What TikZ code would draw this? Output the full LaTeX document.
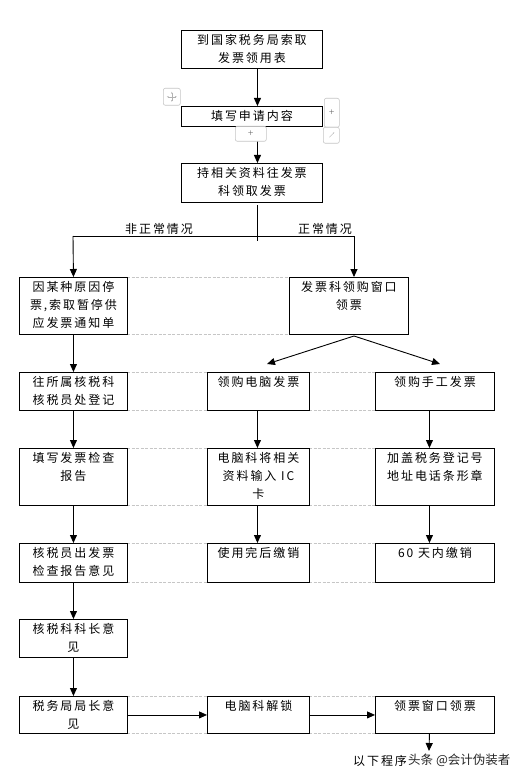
\documentclass[tikz,border=0pt]{standalone}
\usepackage{fontspec}
\setmainfont{Liberation Serif}
\newfontfamily\cjk[LetterSpace=16]{Noto Sans CJK SC}
\newfontfamily\cjkw{Noto Sans CJK SC}
\usetikzlibrary{arrows.meta}
\tikzset{
  box/.style={draw, line width=0.9pt, rectangle, inner sep=0pt},
  txt/.style={font=\cjk\fontsize{12}{18}\selectfont, align=center, inner sep=0pt, anchor=north},
  arr/.style={-{Triangle[length=8pt,width=7pt]}, line width=0.9pt},
  ln/.style={line width=0.9pt},
  grid/.style={draw=gray!45, dashed, dash pattern=on 3pt off 1.5pt, line width=0.6pt},
  ui/.style={draw=gray!45, fill=white, rounded corners=2pt, line width=0.6pt, inner sep=0pt},
  lbl/.style={font=\cjk\fontsize{12}{13}\selectfont, inner sep=0pt}
}
\newcommand\mybox[6]{%
  \node[box, anchor=north west, minimum width={(#4-#2)*1pt}, minimum height={(#5-#3)*1pt}] (#1) at (#2,#3) {};
  \node[txt] (#1t) at ([yshift=-4.5pt]#1.north) {#6};
}
\begin{document}
\begin{tikzpicture}[x=1pt,y=-1pt]
\useasboundingbox (0,0) rectangle (530,778);
\fill[white] (0,0) rectangle (530,778);

% dashed grid artifacts
\foreach \y in {277,334} { \draw[grid] (127,\y) -- (289,\y); }
\foreach \y in {372,410,448,505,543,582,696,733} {
  \draw[grid] (127,\y) -- (207,\y);
  \draw[grid] (309,\y) -- (375,\y);
}

% boxes
\mybox{b1}{181}{30}{322}{68}{到国家税务局索取\\发票领用表}
\mybox{b2}{181}{106}{322}{126}{填写申请内容}
\mybox{b3}{181}{163}{322}{202}{持相关资料往发票\\科领取发票}
\mybox{b4}{19}{277}{127}{334}{因某种原因停\\票,索取暂停供\\应发票通知单}
\mybox{b5}{289}{277}{408}{334}{发票科领购窗口\\领票}
\mybox{b6}{19}{372}{127}{410}{往所属核税科\\核税员处登记}
\mybox{b7}{207}{372}{309}{410}{领购电脑发票}
\mybox{b8}{375}{372}{494}{410}{领购手工发票}
\mybox{b9}{19}{448}{127}{505}{填写发票检查\\报告}
\mybox{b10}{207}{448}{309}{505}{电脑科将相关\\资料输入 IC\\卡}
\mybox{b11}{375}{448}{494}{505}{加盖税务登记号\\地址电话条形章}
\mybox{b12}{19}{543}{127}{582}{核税员出发票\\检查报告意见}
\mybox{b13}{207}{543}{309}{582}{使用完后缴销}
\mybox{b14}{375}{543}{494}{582}{60 天内缴销}
\mybox{b15}{19}{619}{127}{657}{核税科科长意\\见}
\mybox{b16}{19}{696}{127}{733}{税务局局长意\\见}
\mybox{b17}{207}{696}{309}{733}{电脑科解锁}
\mybox{b18}{375}{696}{494}{733}{领票窗口领票}

% top connectors
\draw[arr] ([xshift=5.5pt]b1.south) -- ([xshift=5.5pt]b2.north);
\draw[arr] ([xshift=5.5pt]b2.south) -- ([xshift=5.5pt]b3.north);
\coordinate (sp) at (257,205);
\coordinate (spb) at (257,241);
\coordinate (jL) at (73,236);
\coordinate (jR) at (354,236);
\draw[ln] (sp) -- (spb);
\draw[ln] (jL) -- (jR);
\draw[arr] (jL) -- (b4.north);
\draw[arr] (jR) -- (jR |- b5.north);
\node[lbl] (l1) at (159,229) {非正常情况};
\node[lbl] (l2) at (325,229) {正常情况};

% right fork
\coordinate (fk) at (354,336);
\coordinate (fkL) at (267,364);
\coordinate (fkR) at (440,364);
\draw[arr] (fk) -- (fkL);
\draw[arr] (fk) -- (fkR);

% left column
\draw[arr] (b4.south) -- (b6.north);
\draw[arr] (b6.south) -- (b9.north);
\draw[arr] (b9.south) -- (b12.north);
\draw[arr] (b12.south) -- (b15.north);
\draw[arr] (b15.south) -- (b16.north);
% middle column
\draw[arr] ([xshift=-1pt]b7.south) -- ([xshift=-1pt]b10.north);
\draw[arr] ([xshift=-1pt]b10.south) -- ([xshift=-1pt]b13.north);
% right column
\draw[arr] ([xshift=-5.5pt]b8.south) -- ([xshift=-5.5pt]b11.north);
\draw[arr] ([xshift=-5.5pt]b11.south) -- ([xshift=-5.5pt]b14.north);
% bottom row
\draw[arr] (b16.east) -- (b17.west);
\draw[arr] (b17.east) -- (b18.west);
\coordinate (endp) at (429,751);
\draw[arr] ([xshift=-5.5pt]b18.south) -- (endp);
\node[font=\cjk\fontsize{12}{13}\selectfont, inner sep=0pt, anchor=west] (tail) at (353,761) {以下程序};
\node[font=\cjkw\fontsize{12.5}{13}\selectfont, inner sep=0pt, anchor=west, text=black!85] (wm) at (408,760) {头条 @会计伪装者};

% editor UI artifacts
\node[ui, minimum width=17pt, minimum height=17pt, anchor=north west] (mv) at (163,88) {};
\draw[gray!60, line width=0.5pt, {Stealth[length=2pt]}-{Stealth[length=2pt]}] ([xshift=-5pt]mv.center) -- ([xshift=5pt]mv.center);
\draw[gray!60, line width=0.5pt, {Stealth[length=2pt]}-{Stealth[length=2pt]}] ([yshift=-5pt]mv.center) -- ([yshift=5pt]mv.center);
\node[ui, minimum width=31pt, minimum height=15pt, anchor=north west, font=\fontsize{10}{10}\selectfont, text=gray!80!black] (pb) at (235,126) {+};
\node[ui, minimum width=15pt, minimum height=29pt, anchor=north west, font=\fontsize{10}{10}\selectfont, text=gray!80!black] (pr) at (324,98) {+};
\node[ui, minimum width=16pt, minimum height=16pt, anchor=north west] (rs) at (323,127) {};
\draw[gray!60, line width=0.4pt, -{Stealth[length=1.5pt]}] ([shift={(-2pt,-2pt)}]rs.center) -- ([shift={(3pt,3pt)}]rs.center);
\end{tikzpicture}
\end{document}
